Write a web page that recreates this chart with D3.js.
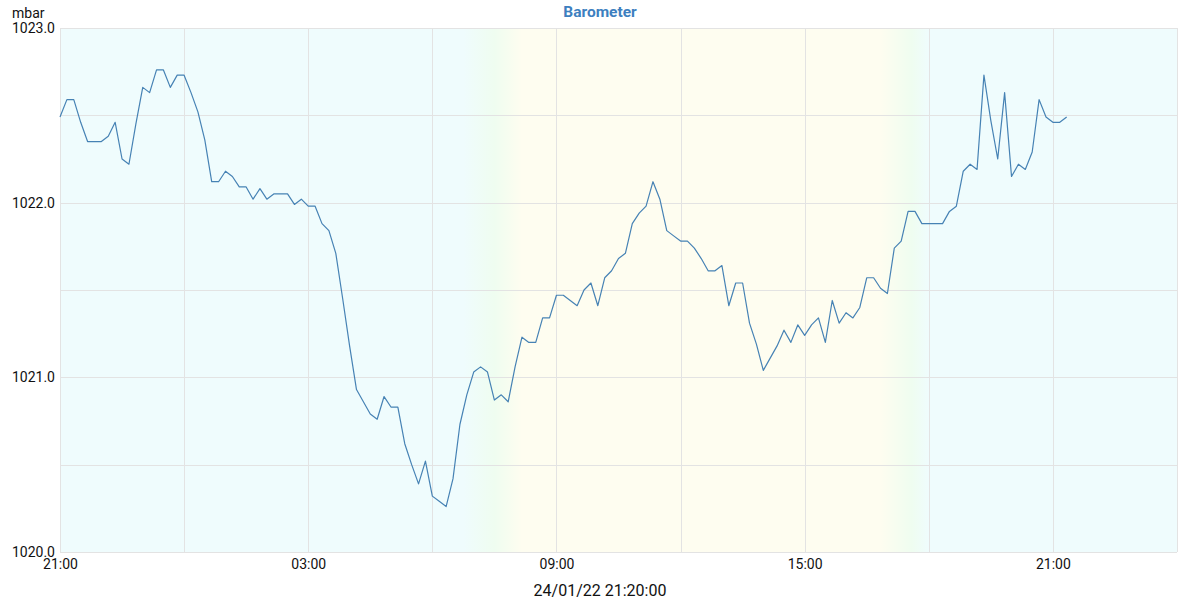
<!DOCTYPE html>
<html>
<head>
<meta charset="utf-8">
<script src="https://cdn.jsdelivr.net/npm/d3@7"></script>
<style>
  html, body { margin: 0; padding: 0; background: #fff; }
  svg { display: block; font-family: Roboto, "Noto Sans", sans-serif; }
</style>
</head>
<body>
<svg id="chart" width="1200" height="600"></svg>
<script>
// ---- data ----
const title = "Barometer";
const unitLabel = "mbar";
const footerLabel = "24/01/22 21:20:00";
const startTime = "2022-01-23T21:00:00";
const stepMinutes = 10;
const domainStart = "2022-01-23T21:00:00";
const domainEnd = "2022-01-25T00:00:00";
const pressure = [
  1022.49, 1022.59, 1022.59, 1022.46, 1022.35, 1022.35, 1022.35, 1022.38, 1022.46, 1022.25,
  1022.22, 1022.45, 1022.66, 1022.63, 1022.76, 1022.76, 1022.66, 1022.73, 1022.73, 1022.63,
  1022.52, 1022.36, 1022.12, 1022.12, 1022.18, 1022.15, 1022.09, 1022.09, 1022.02, 1022.08,
  1022.02, 1022.05, 1022.05, 1022.05, 1021.99, 1022.02, 1021.98, 1021.98, 1021.88, 1021.84,
  1021.71, 1021.45, 1021.18, 1020.93, 1020.86, 1020.79, 1020.76, 1020.89, 1020.83, 1020.83,
  1020.62, 1020.50, 1020.39, 1020.52, 1020.32, 1020.29, 1020.26, 1020.42, 1020.73, 1020.90,
  1021.03, 1021.06, 1021.03, 1020.87, 1020.90, 1020.86, 1021.06, 1021.23, 1021.20, 1021.20,
  1021.34, 1021.34, 1021.47, 1021.47, 1021.44, 1021.41, 1021.50, 1021.54, 1021.41, 1021.57,
  1021.61, 1021.68, 1021.71, 1021.88, 1021.94, 1021.98, 1022.12, 1022.02, 1021.84, 1021.81,
  1021.78, 1021.78, 1021.74, 1021.68, 1021.61, 1021.61, 1021.64, 1021.41, 1021.54, 1021.54,
  1021.31, 1021.19, 1021.04, 1021.11, 1021.18, 1021.27, 1021.20, 1021.30, 1021.24, 1021.30,
  1021.34, 1021.20, 1021.44, 1021.31, 1021.37, 1021.34, 1021.40, 1021.57, 1021.57, 1021.51,
  1021.48, 1021.74, 1021.78, 1021.95, 1021.95, 1021.88, 1021.88, 1021.88, 1021.88, 1021.95,
  1021.98, 1022.18, 1022.22, 1022.19, 1022.73, 1022.47, 1022.25, 1022.63, 1022.15, 1022.22,
  1022.19, 1022.29, 1022.59, 1022.49, 1022.46, 1022.46, 1022.49
];
const yDomain = [1020, 1023];
const yLabelTicks = [1020, 1021, 1022, 1023];
const yGridTicks = [1020, 1020.5, 1021, 1021.5, 1022, 1022.5, 1023];
const xLabelTicks = ["2022-01-23T21:00:00", "2022-01-24T03:00:00", "2022-01-24T09:00:00", "2022-01-24T15:00:00", "2022-01-24T21:00:00"];
const xTickLabels = ["21:00", "03:00", "09:00", "15:00", "21:00"];
// daylight background transitions (time, colour)
const bgStops = [
  ["2022-01-23T21:00:00", "#effcfd"],
  ["2022-01-24T06:45:00", "#effcfd"],
  ["2022-01-24T07:30:00", "#effdf0"],
  ["2022-01-24T08:10:00", "#fefdf0"],
  ["2022-01-24T16:50:00", "#fefdf0"],
  ["2022-01-24T17:35:00", "#effdf0"],
  ["2022-01-24T18:00:00", "#effcfd"],
  ["2022-01-25T00:00:00", "#effcfd"]
];

// ---- layout ----
const W = 1200, H = 600;
const m = { left: 60, right: 23, top: 28, bottom: 48 };
const iw = W - m.left - m.right, ih = H - m.top - m.bottom;

const parse = d3.isoParse;
const t0 = parse(startTime);
const data = pressure.map((v, i) => ({ t: d3.timeMinute.offset(t0, i * stepMinutes), v }));

const x = d3.scaleTime().domain([parse(domainStart), parse(domainEnd)]).range([0, iw]);
const y = d3.scaleLinear().domain(yDomain).range([ih, 0]);

const svg = d3.select("#chart");
const defs = svg.append("defs");
const grad = defs.append("linearGradient").attr("id", "daylight")
  .attr("gradientUnits", "userSpaceOnUse")
  .attr("x1", 0).attr("x2", iw).attr("y1", 0).attr("y2", 0);
bgStops.forEach(([t, c]) => {
  grad.append("stop").attr("offset", x(parse(t)) / iw).attr("stop-color", c);
});

const g = svg.append("g").attr("transform", `translate(${m.left},${m.top})`);
g.append("rect").attr("width", iw).attr("height", ih).attr("fill", "url(#daylight)");

// grid
const xGrid = d3.timeHour.every(3).range(x.domain()[0], d3.timeMinute.offset(x.domain()[1], 1));
g.append("g").selectAll("line").data(xGrid).join("line")
  .attr("x1", d => Math.round(x(d)) + 0.5).attr("x2", d => Math.round(x(d)) + 0.5)
  .attr("y1", 0).attr("y2", ih)
  .attr("stroke", "#e3e3e3").attr("stroke-width", 1);
g.append("g").selectAll("line").data(yGridTicks).join("line")
  .attr("y1", d => Math.round(y(d)) + 0.5).attr("y2", d => Math.round(y(d)) + 0.5)
  .attr("x1", 0).attr("x2", iw)
  .attr("stroke", "#e3e3e3").attr("stroke-width", 1);

// line
const line = d3.line().x(d => x(d.t)).y(d => y(d.v));
g.append("path").datum(data).attr("d", line)
  .attr("fill", "none").attr("stroke", "#4682b4").attr("stroke-width", 1.2)
  .attr("stroke-linejoin", "round");

// y axis labels
const yAxis = d3.axisLeft(y).tickValues(yLabelTicks).tickFormat(d3.format(".1f")).tickSize(0).tickPadding(5);
const ya = g.append("g").call(yAxis);
ya.select(".domain").remove();
ya.selectAll("text").attr("font-size", 14).attr("fill", "#111").attr("font-family", "Roboto");

// x axis labels
const xAxis = d3.axisBottom(x).tickValues(xLabelTicks.map(parse))
  .tickFormat((d, i) => xTickLabels[i]).tickSize(0).tickPadding(7);
const xa = g.append("g").attr("transform", `translate(0,${ih})`).call(xAxis);
xa.select(".domain").remove();
xa.selectAll("text").attr("font-size", 14).attr("fill", "#111").attr("font-family", "Roboto");

// texts
svg.append("text").attr("x", 12).attr("y", 18).text(unitLabel)
  .attr("font-size", 14).attr("fill", "#111");
svg.append("text").attr("x", 600).attr("y", 17).attr("text-anchor", "middle").text(title)
  .attr("font-size", 15.5).attr("font-weight", "bold").attr("fill", "#3d7fbf");
svg.append("text").attr("x", 600).attr("y", 592).attr("dominant-baseline", "middle")
  .attr("text-anchor", "middle").text(footerLabel)
  .attr("font-size", 16).attr("fill", "#111");
</script>
</body>
</html>
